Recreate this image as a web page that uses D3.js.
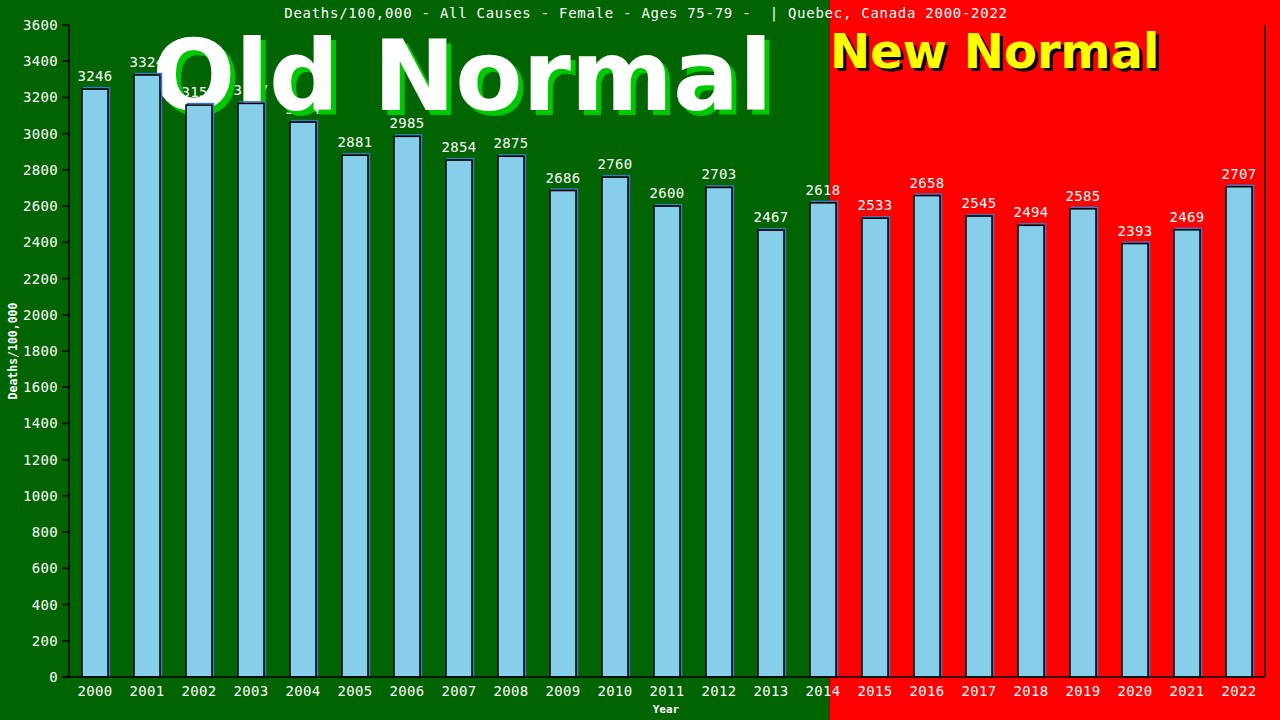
<!DOCTYPE html>
<html><head><meta charset="utf-8">
<script src="https://cdn.jsdelivr.net/npm/d3@7/dist/d3.min.js"></script>
<style>html,body{margin:0;padding:0;background:#000;}svg{display:block}</style>
</head><body>
<svg id="c" width="1280" height="720"></svg>
<script>
const years = ["2000","2001","2002","2003","2004","2005","2006","2007","2008","2009","2010","2011","2012","2013","2014","2015","2016","2017","2018","2019","2020","2021","2022"];
const values = [3246,3324,3158,3167,3064,2881,2985,2854,2875,2686,2760,2600,2703,2467,2618,2533,2658,2545,2494,2585,2393,2469,2707];
const yTicks = d3.range(0, 3601, 200);
const titleText = "Deaths/100,000 - All Causes - Female - Ages 75-79 -  | Quebec, Canada 2000-2022";

const svg = d3.select("#c");
const W = 1280, H = 720;
const m = {l:69, r:1265, t:25, b:677};
const x = d3.scaleBand().domain(years).range([m.l, m.r]).paddingInner(0.5).paddingOuter(0.25);
const y = d3.scaleLinear().domain([0,3600]).range([m.b, m.t]);
const splitX = 829.5;
const mono = "'DejaVu Sans Mono', 'Liberation Mono', monospace";

svg.append("rect").attr("x",0).attr("y",0).attr("width",splitX).attr("height",H).attr("fill","#006400");
svg.append("rect").attr("x",splitX).attr("y",0).attr("width",W-splitX).attr("height",H).attr("fill","#ff0000");

// value labels (drawn beneath big labels)
svg.append("g").selectAll("text").data(values).join("text")
  .attr("x",(d,i)=>x(years[i])+x.bandwidth()/2).attr("y",d=>y(d)-8)
  .attr("text-anchor","middle").attr("font-family",mono).attr("font-size",14)
  .attr("letter-spacing",0.3).attr("fill","#fff").text(d=>d);

// Big background labels
const big = svg.append("g").attr("font-family","'DejaVu Sans', Verdana, sans-serif").attr("font-weight","bold");
big.append("text").attr("x",152+5).attr("y",110+5).attr("font-size",98).attr("fill","#00c800").text("Old Normal");
big.append("text").attr("x",152).attr("y",110).attr("font-size",98).attr("fill","#ffffff").text("Old Normal");
big.append("text").attr("x",830+3).attr("y",68+3).attr("font-size",48).attr("fill","#000").text("New Normal");
big.append("text").attr("x",830).attr("y",68).attr("font-size",48).attr("fill","#ffff00").text("New Normal");

// bars
const g = svg.append("g");
g.selectAll("rect.sh").data(values).join("rect").attr("class","sh")
  .attr("x",(d,i)=>x(years[i])+1.5).attr("y",d=>y(d)-1.5)
  .attr("width",x.bandwidth()).attr("height",d=>m.b-y(d)+1.5)
  .attr("fill","none").attr("stroke","#3a78c8").attr("stroke-width",1.5);
g.selectAll("rect.b").data(values).join("rect").attr("class","b")
  .attr("x",(d,i)=>x(years[i])).attr("y",d=>y(d))
  .attr("width",x.bandwidth()).attr("height",d=>m.b-y(d))
  .attr("fill","#87ceeb").attr("stroke","#000").attr("stroke-width",1.5);

// axes lines
svg.append("line").attr("x1",m.l).attr("x2",m.l).attr("y1",m.t).attr("y2",m.b).attr("stroke","#000").attr("stroke-width",1.5);
svg.append("line").attr("x1",m.r).attr("x2",m.r).attr("y1",m.t).attr("y2",m.b).attr("stroke","#000").attr("stroke-width",1.5);
svg.append("line").attr("x1",62).attr("x2",m.r).attr("y1",m.b).attr("y2",m.b).attr("stroke","#000").attr("stroke-width",1.5);

// y ticks
const yt = svg.append("g");
yt.selectAll("line").data(yTicks).join("line")
  .attr("x1",62).attr("x2",m.l).attr("y1",d=>y(d)).attr("y2",d=>y(d)).attr("stroke","#000").attr("stroke-width",1.5);
yt.selectAll("text").data(yTicks).join("text")
  .attr("x",58).attr("y",d=>y(d)+5).attr("text-anchor","end")
  .attr("font-family",mono).attr("font-size",14).attr("letter-spacing",0.3).attr("fill","#fff").text(d=>d);

// x labels
svg.append("g").selectAll("text").data(years).join("text")
  .attr("x",d=>x(d)+x.bandwidth()/2).attr("y",696).attr("text-anchor","middle")
  .attr("font-family",mono).attr("font-size",14).attr("letter-spacing",0.3).attr("fill","#fff").text(d=>d);

// titles
svg.append("text").attr("x",646).attr("y",18).attr("text-anchor","middle").style("white-space","pre")
  .attr("font-family",mono).attr("font-size",14).attr("letter-spacing",0.73).attr("fill","#fff").text(titleText);
svg.append("text").attr("x",666).attr("y",713).attr("text-anchor","middle")
  .attr("font-family",mono).attr("font-size",11).attr("font-weight","bold").attr("fill","#fff").text("Year");
svg.append("text").attr("transform","translate(17,351) rotate(-90)").attr("text-anchor","middle")
  .attr("font-family",mono).attr("font-size",11.5).attr("font-weight","bold").attr("fill","#fff").text("Deaths/100,000");
</script>
</body></html>
